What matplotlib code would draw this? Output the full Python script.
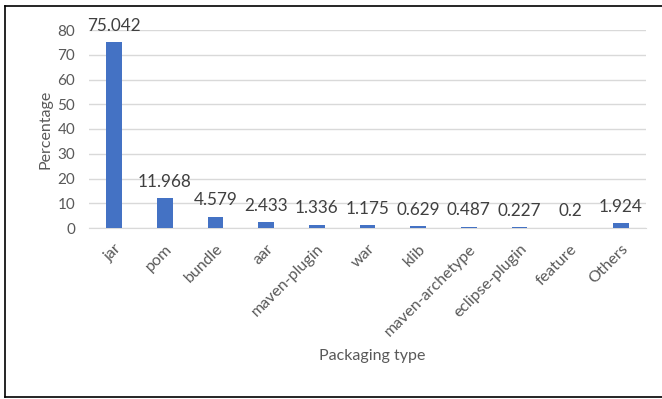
import matplotlib.pyplot as plt
from matplotlib.lines import Line2D

categories = ['jar', 'pom', 'bundle', 'aar', 'maven-plugin', 'war', 'klib',
              'maven-archetype', 'eclipse-plugin', 'feature', 'Others']
percentages = [75.042, 11.968, 4.579, 2.433, 1.336, 1.175, 0.629,
               0.487, 0.227, 0.2, 1.924]
value_labels = ['75.042', '11.968', '4.579', '2.433', '1.336', '1.175', '0.629',
                '0.487', '0.227', '0.2', '1.924']
y_ticks = [0, 10, 20, 30, 40, 50, 60, 70, 80]

plt.rcParams['font.family'] = ['Lato', 'DejaVu Sans']
text_color = '#595959'

fig = plt.figure(figsize=(6.62, 3.99), dpi=100)
ax = fig.add_axes([89 / 662, 1 - 228 / 399, (646 - 89) / 662, 198 / 399])

x = range(len(categories))
ax.bar(x, percentages, width=0.31, color='#4472C4', zorder=3)
for i, (v, lab) in enumerate(zip(percentages, value_labels)):
    ax.annotate(lab, (i, v), xytext=(0, 6), textcoords='offset points',
                ha='center', va='bottom', fontsize=12.3, color='#404040')

ax.set_xlim(-0.5, len(categories) - 0.5)
ax.set_ylim(0, 80)
ax.set_yticks(y_ticks)
ax.set_yticklabels([str(t) for t in y_ticks], fontsize=11, color=text_color)
ax.set_xticks(list(x))
ax.set_xticklabels(categories, rotation=45, ha='right', rotation_mode='anchor',
                   fontsize=11.5, color=text_color)
ax.tick_params(axis='y', length=0, pad=10)
ax.tick_params(axis='x', length=0, pad=10)
ax.grid(axis='y', color='#d9d9d9', linewidth=1, zorder=0)
for s in ['top', 'right', 'left']:
    ax.spines[s].set_visible(False)
ax.spines['bottom'].set_color('#d9d9d9')

ax.set_ylabel('Percentage', fontsize=11.5, color=text_color)
ax.yaxis.set_label_coords(-0.066, 0.5)
fig.text(372 / 662, 1 - 356 / 399, 'Packaging type', ha='center', va='center',
         fontsize=11.5, color=text_color)

# outer border (left, top, bottom)
fig.add_artist(Line2D([5 / 662, 5 / 662], [1 - 6 / 399, 1 - 397 / 399],
                      transform=fig.transFigure, color='black', linewidth=1.2))
fig.add_artist(Line2D([5 / 662, 1], [1 - 6 / 399, 1 - 6 / 399],
                      transform=fig.transFigure, color='black', linewidth=1.2))
fig.add_artist(Line2D([5 / 662, 1], [1 - 397 / 399, 1 - 397 / 399],
                      transform=fig.transFigure, color='black', linewidth=1.2))

fig.savefig('out.png', dpi=100)
